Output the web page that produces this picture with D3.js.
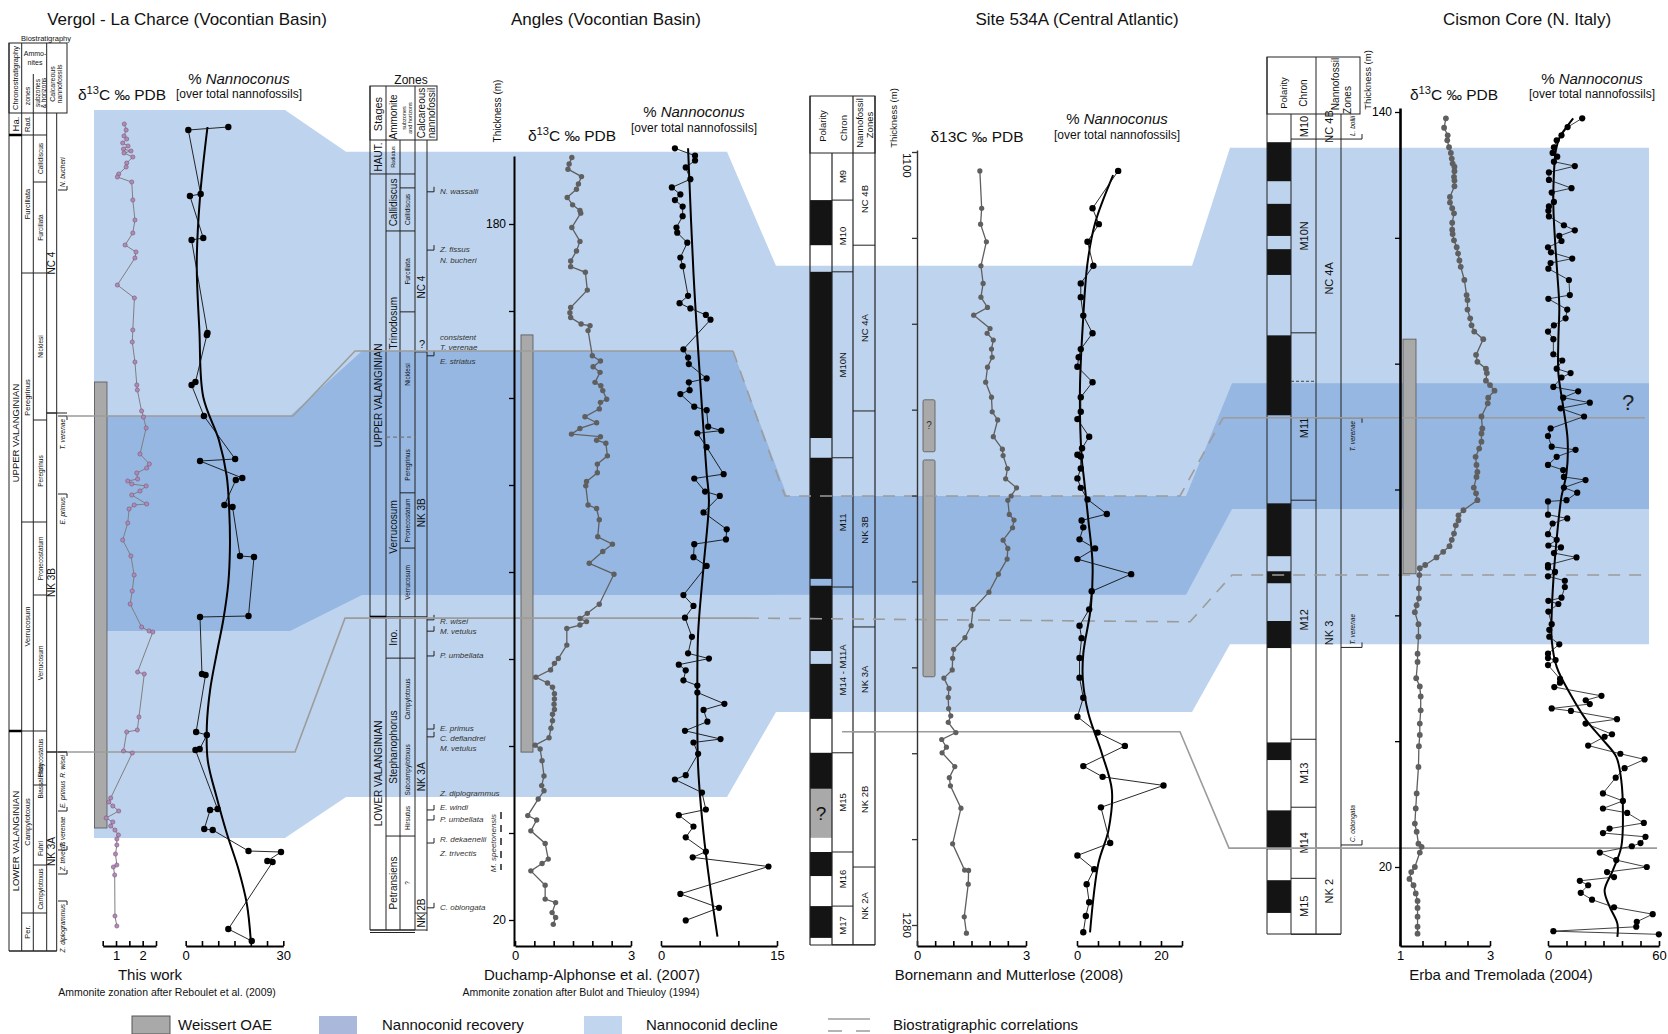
<!DOCTYPE html>
<html><head><meta charset="utf-8"><title>Nannoconid crisis</title>
<script src="https://cdnjs.cloudflare.com/ajax/libs/d3/7.8.5/d3.min.js"></script>
<style>html,body{margin:0;padding:0;background:#fff}svg{display:block}</style>
</head><body>
<script>
// ================= DATA =================
const titles = ["Vergol - La Charce (Vocontian Basin)", "Angles (Vocontian Basin)", "Site 534A (Central Atlantic)", "Cismon Core (N. Italy)"];
const sources = ["This work", "Duchamp-Alphonse et al. (2007)", "Bornemann and Mutterlose (2008)", "Erba and Tremolada (2004)"];
const legendItems = ["Weissert OAE", "Nannoconid recovery", "Nannoconid decline", "Biostratigraphic correlations"];

// Vergol (level, m above base) : [level, value]
const vergolD13C = [[82.7,1.31],[82.1,1.38],[81.5,1.30],[81.2,1.40],[80.8,1.25],[80.5,1.45],[80.2,1.28],[80.0,1.56],[79.8,1.30],[79.4,1.63],[78.8,1.40],[78.4,1.38],[77.7,1.10],[77.4,1.05],[76.9,1.59],[75.1,1.63],[73.1,1.71],[71.8,1.63],[70.6,1.34],[69.9,1.75],[69.3,1.71],[66.6,1.05],[65.3,1.69],[62.1,1.63],[60.9,1.61],[58.9,1.71],[56.6,1.78],[56.1,1.80],[54.0,1.96],[53.4,2.03],[52.3,2.13],[49.7,1.90],[48.7,2.25],[48.3,2.15],[47.8,1.78],[47.2,1.81],[47.0,1.44],[46.7,1.59],[46.5,2.13],[46.0,1.90],[45.6,1.59],[44.7,2.15],[44.6,1.68],[44.2,1.49],[42.8,1.44],[41.1,1.25],[39.5,1.56],[37.6,1.68],[36.0,1.61],[34.7,1.53],[32.4,1.96],[32.0,2.24],[31.9,2.38],[27.9,1.81],[27.7,2.06],[23.4,1.86],[22.1,1.80],[21.9,1.40],[20.0,1.28],[19.8,1.61],[15.3,0.80],[14.9,0.73],[14.5,0.88],[14.0,1.10],[13.3,0.63],[12.9,0.88],[12.5,0.80],[12.1,0.96],[11.6,1.09],[11.2,1.03],[10.6,1.03],[9.7,0.98],[8.6,1.03],[8.4,0.90],[7.6,0.95],[3.5,0.96],[2.5,1.03]];
const vergolNanno = [[82.4,13.1],[82.1,0.8],[75.7,4.6],[75.5,1.3],[71.3,5.4],[71.1,1.8],[61.8,6.7],[61.6,6.5],[56.9,3.0],[56.6,1.8],[53.5,5.6],[49.2,15.2],[49.0,4.4],[47.3,17.4],[47.1,15.4],[44.6,11.9],[44.4,14.4],[39.5,16.7],[39.4,21.0],[33.5,19.3],[33.4,4.4],[27.7,5.0],[27.6,6.1],[21.9,3.2],[21.6,6.5],[20.2,4.3],[20.1,3.0],[14.2,9.8],[14.1,7.5],[12.2,5.7],[12.1,8.3],[10.0,19.3],[9.9,29.3],[9.0,25.1],[8.9,26.7],[2.2,13.1],[1.0,20.3]];
const vergolTrend = [[82.4,6.7],[75.4,4.4],[68.8,3.4],[62.1,4.2],[55.4,5.4],[51.1,10.2],[47.5,12.6],[43.9,13.4],[40.4,13.6],[36.8,13.1],[33.2,11.6],[29.7,9.5],[26.1,7.5],[22.5,6.5],[19.0,6.8],[15.4,9.5],[11.8,12.6],[8.2,16.2],[4.7,18.8],[1.1,20.0]];

// Angles (thickness m) : [thickness, value]
const anglesD13C = [[195.3,1.47],[193.8,1.40],[192.6,1.37],[190.9,1.72],[189.2,1.64],[188.0,1.59],[186.1,1.35],[184.4,1.49],[183.1,1.68],[182.5,1.70],[179.2,1.47],[176.0,1.68],[173.8,1.59],[171.5,1.44],[170.2,1.44],[168.9,1.82],[164.8,1.87],[160.8,1.44],[159.6,1.42],[158.5,1.44],[157.0,1.71],[156.6,1.94],[155.5,1.89],[149.7,2.00],[148.5,2.21],[147.2,2.02],[145.9,2.20],[143.6,2.07],[142.8,2.22],[141.7,2.27],[139.7,2.37],[139.0,2.21],[137.5,2.18],[135.7,1.81],[134.3,2.11],[133.0,1.68],[131.7,1.46],[131.1,2.21],[130.3,2.11],[129.6,2.35],[126.7,2.39],[124.8,2.13],[122.8,2.13],[120.8,1.85],[119.8,1.83],[115.4,1.89],[114.6,2.11],[112.0,2.18],[108.1,2.14],[106.4,2.52],[104.7,2.27],[102.0,1.92],[99.5,2.56],[92.6,2.18],[90.5,1.87],[89.3,1.68],[88.6,1.85],[87.8,1.68],[87.0,1.34],[83.2,1.34],[80.1,1.12],[79.0,1.02],[77.5,0.92],[75.8,0.54],[74.5,0.84],[73.5,0.97],[72.0,1.02],[70.8,1.02],[69.6,1.01],[68.4,1.02],[67.3,0.97],[65.8,0.97],[64.1,0.93],[61.9,0.88],[60.2,0.52],[59.3,0.65],[56.6,0.70],[53.1,0.75],[50.9,0.69],[49.7,0.75],[47.8,0.60],[44.0,0.33],[43.0,0.56],[40.5,0.41],[37.6,0.78],[34.0,0.86],[33.0,0.70],[31.3,0.41],[28.0,0.78],[24.8,0.78],[24.0,1.05],[21.7,0.96],[20.6,1.05],[19.0,0.99]];
const anglesNanno = [[197.4,1.8],[195.7,4.4],[194.6,4.4],[193.0,3.2],[190.3,3.8],[188.4,1.4],[186.8,2.5],[185.5,1.8],[184.0,2.8],[181.8,2.8],[179.2,2.0],[178.0,2.1],[175.7,3.4],[172.3,2.5],[170.3,2.8],[163.5,3.5],[161.8,2.4],[160.6,3.8],[159.1,5.8],[158.0,6.4],[151.2,2.9],[149.3,3.5],[147.8,3.6],[144.5,5.9],[143.6,3.6],[141.8,3.7],[140.9,2.5],[138.0,4.3],[137.2,5.9],[133.4,6.1],[132.5,7.8],[131.9,4.7],[128.7,5.9],[122.5,8.1],[121.5,4.3],[118.5,5.7],[117.5,7.6],[113.7,5.5],[109.8,8.5],[107.5,8.4],[106.4,4.3],[103.4,4.2],[101.4,5.9],[94.7,2.9],[92.2,4.2],[89.5,3.1],[85.1,4.0],[81.3,3.5],[80.1,6.2],[78.7,2.3],[77.4,3.2],[75.1,2.9],[73.9,4.7],[72.3,4.7],[69.7,8.2],[68.3,5.5],[65.6,6.0],[63.5,3.1],[61.6,7.7],[60.8,4.2],[58.2,4.8],[53.3,3.2],[52.3,1.8],[49.3,5.3],[45.4,5.8],[44.1,2.3],[41.5,4.2],[39.0,3.2],[35.7,5.8],[34.4,4.1],[32.3,13.9],[26.0,2.5],[22.8,7.5],[19.9,3.2]];
const anglesTrend = [[197.4,3.5],[168.7,4.2],[145.7,5.0],[122.7,5.9],[116.5,6.2],[101.2,5.5],[85.9,4.8],[70.6,4.7],[55.2,4.8],[39.9,5.5],[28.4,6.3],[16.2,7.3]];

// Site 534A (depth m)
const siteD13C = [[1104.4,1.73],[1113.1,1.78],[1116.8,1.75],[1120.9,1.91],[1126.5,1.76],[1130.6,1.82],[1133.8,1.76],[1136.2,1.94],[1138.0,1.56],[1141.1,2.01],[1142.2,1.93],[1143.8,2.10],[1145.9,2.05],[1147.8,2.07],[1150.1,1.94],[1153.6,1.89],[1157.1,2.05],[1160.5,2.07],[1162.4,2.22],[1166.3,2.10],[1169.2,2.35],[1170.7,2.37],[1173.7,2.49],[1176.1,2.44],[1178.2,2.74],[1180.1,2.59],[1181.1,2.50],[1184.4,2.54],[1185.7,2.67],[1187.5,2.63],[1190.4,2.37],[1192.3,2.50],[1194.8,2.48],[1198.3,2.24],[1202.5,1.98],[1206.5,1.54],[1210.3,1.49],[1213.1,1.32],[1215.8,1.01],[1217.9,0.98],[1220.6,0.97],[1222.5,0.74],[1224.9,0.88],[1227.0,0.86],[1229.6,0.87],[1231.3,0.93],[1232.8,0.86],[1235.2,1.07],[1236.8,0.68],[1238.6,0.81],[1239.9,0.69],[1243.1,1.04],[1245.7,0.89],[1247.6,0.92],[1252.8,1.21],[1261.1,0.98],[1267.2,1.31],[1267.3,1.42],[1270.5,1.41],[1278.1,1.30],[1281.9,1.36]];
const siteNanno = [[1104.4,9.8],[1113.1,3.7],[1116.8,5.2],[1120.9,2.5],[1126.5,3.9],[1130.6,0.9],[1133.8,0.9],[1138.1,1.5],[1142.2,3.7],[1145.9,0.9],[1147.8,0.4],[1150.0,0.1],[1153.6,3.7],[1157.1,0.9],[1160.5,0.9],[1162.2,0.1],[1166.3,2.9],[1169.0,1.2],[1170.5,0.1],[1170.9,0.9],[1173.7,0.9],[1176.0,0.1],[1178.2,0.9],[1180.9,2.5],[1184.3,7.1],[1185.8,1.1],[1187.4,1.5],[1190.2,0.6],[1192.3,4.3],[1194.8,0.1],[1198.3,12.9],[1202.3,3.5],[1206.5,2.9],[1210.3,0.6],[1213.2,1.1],[1217.8,0.6],[1222.4,0.6],[1227.1,1.5],[1231.5,0.1],[1235.2,4.9],[1238.3,11.4],[1243.0,1.5],[1245.5,6.1],[1247.5,20.6],[1252.6,5.7],[1260.9,7.9],[1263.8,0.1],[1267.0,4.1],[1270.5,2.3],[1274.7,2.9],[1277.9,2.1],[1281.7,1.5]];
const siteTrend = [[1105.4,8.6],[1116.6,4.3],[1125.9,2.5],[1139.9,1.4],[1155.4,0.7],[1170.9,1.1],[1176.4,1.7],[1185.7,2.7],[1195.8,3.7],[1205.9,3.3],[1216.8,1.5],[1223.0,1.4],[1230.7,2.7],[1240.0,5.9],[1248.6,8.3],[1257.9,7.5],[1265.6,5.1],[1281.7,3.1]];

// Cismon (thickness m)
const cismonD13C = [[139.0,2.02],[137.5,1.98],[136.3,2.06],[135.5,2.05],[134.4,2.09],[133.5,2.13],[132.6,2.15],[131.8,2.17],[131.3,2.21],[130.6,2.21],[129.7,2.20],[129.1,2.21],[128.2,2.21],[126.5,2.11],[125.6,2.11],[124.7,2.16],[123.9,2.20],[122.4,2.16],[121.3,2.16],[120.6,2.17],[119.6,2.20],[118.5,2.26],[117.5,2.29],[116.4,2.32],[115.4,2.35],[113.3,2.43],[110.9,2.48],[110.1,2.50],[108.6,2.50],[107.2,2.56],[106.1,2.59],[105.1,2.65],[103.9,2.85],[101.4,2.69],[100.3,2.72],[99.2,2.91],[98.5,2.93],[97.3,2.91],[96.6,3.00],[95.7,3.10],[94.6,2.96],[93.7,2.95],[91.6,2.81],[89.7,2.83],[88.9,2.81],[87.6,2.81],[86.5,2.76],[85.2,2.68],[83.9,2.70],[82.8,2.72],[82.0,2.70],[80.3,2.64],[79.4,2.69],[78.3,2.72],[76.7,2.41],[75.9,2.30],[75.1,2.30],[74.3,2.24],[73.0,2.20],[72.0,2.15],[71.0,2.10],[70.1,1.96],[69.2,1.81],[68.0,1.56],[67.5,1.44],[66.4,1.43],[64.3,1.42],[62.7,1.42],[61.6,1.37],[60.5,1.33],[58.6,1.41],[56.6,1.41],[53.9,1.39],[52.6,1.39],[50.0,1.36],[48.7,1.44],[47.1,1.46],[44.9,1.46],[42.8,1.44],[41.0,1.44],[39.2,1.42],[35.9,1.41],[31.7,1.37],[29.3,1.35],[26.9,1.33],[25.6,1.37],[23.7,1.41],[23.2,1.48],[22.3,1.44],[20.0,1.33],[19.2,1.25],[18.1,1.21],[17.1,1.30],[15.8,1.35],[14.6,1.39],[13.5,1.39],[12.1,1.39],[10.5,1.39],[9.4,1.39]];
const cismonNanno = [[139.0,18.5],[137.6,10.6],[136.3,7.3],[135.5,4.7],[134.4,3.2],[133.5,2.5],[132.9,5.0],[132.1,3.2],[131.4,14.5],[130.4,0.5],[129.2,0.5],[127.9,12.7],[127.2,2.0],[125.7,3.2],[125.0,0.5],[124.3,0.2],[123.4,0.5],[122.0,8.6],[121.2,14.5],[120.3,6.1],[119.5,7.3],[118.5,0],[117.7,1.6],[116.7,13.1],[116.0,1.4],[115.1,0.2],[113.3,11.3],[110.9,11.8],[110.3,0.2],[108.6,10.4],[107.2,9.5],[106.1,3.2],[105.1,0],[103.9,2.9],[101.5,2.9],[100.5,7.7],[99.2,4.7],[98.5,12.2],[97.8,7.3],[96.3,2.9],[95.6,16.3],[94.6,8.2],[93.8,22.6],[92.9,6.8],[91.6,19.5],[89.7,1.4],[88.5,0],[86.8,2.0],[86.3,14.9],[85.2,4.7],[83.9,0],[83.1,8.2],[82.0,8.6],[81.5,20.3],[80.3,8.6],[79.5,15.8],[78.3,10.0],[78.1,0],[76.0,0],[75.4,10.4],[74.6,2.5],[72.9,0],[72.0,4.7],[71.1,0.2],[70.8,7.0],[69.9,3.2],[69.2,15.4],[68.0,0],[67.6,0],[66.9,3.8],[66.2,0],[65.5,9.1],[64.5,9.1],[62.8,7.3],[62.3,0.2],[61.8,5.6],[60.6,0.2],[58.6,2.0],[57.7,0.7],[56.6,0.7],[55.4,6.1],[53.9,0],[53.2,0],[52.9,4.1],[52.1,0],[49.9,6.5],[49.3,6.5],[48.6,3.4],[47.2,28.9],[46.5,20.4],[45.9,22.6],[45.2,2.0],[44.8,12.4],[43.5,37.3],[42.8,20.3],[41.1,34.6],[40.7,30.6],[39.3,21.7],[38.0,39.1],[37.1,52.2],[35.7,41.4],[34.2,36.6],[31.7,29.7],[30.5,40.5],[29.3,29.7],[28.6,42.8],[27.0,51.8],[26.1,33.3],[25.4,29.7],[24.8,52.7],[23.8,50.0],[23.3,45.3],[22.3,28.0],[21.1,36.9],[20.0,53.4],[19.2,31.9],[18.4,35.7],[17.8,17.2],[17.1,21.7],[15.9,17.7],[14.8,23.8],[13.6,35.7],[12.5,56.6],[11.3,48.0],[10.5,47.7],[9.8,2.9],[9.3,59.9]];
const cismonTrend = [[139.0,13.6],[137.6,10.0],[136.1,6.5],[134.0,4.3],[130.2,3.2],[125.0,2.9],[119.6,3.8],[114.4,5.0],[109.1,6.1],[103.8,5.6],[98.5,5.6],[93.2,8.2],[87.9,10.6],[82.6,10.0],[78.9,7.3],[76.2,6.1],[70.9,4.3],[65.6,2.9],[60.3,2.0],[56.1,2.0],[51.8,4.7],[47.6,11.8],[43.3,20.8],[40.2,29.7],[37.5,36.9],[33.8,39.6],[28.5,40.5],[23.2,39.6],[19.5,35.1],[16.3,30.6],[13.7,33.3],[11.0,37.5],[8.9,37.5]];

// Bands [top, bottom] in each section's depth units (Vergol, Angles, Site 534A, Cismon)
const declineBand = [[84.1,11.3],[196.6,48.3],[1126.5,1230.4],[134.3,55.4]];
const recoveryBand = [[53.5,32.0],[150.8,94.7],[1180.1,1203.1],[96.9,76.9]];
// Correlation levels
const corrUpper = [53.5, 150.8, 1180.1, 91.4];
const corrLower = [19.9, 89.4, 1209.4, 66.4];
const corrMagneto = [1235.0, 23.0];
// Weissert OAE intervals
const oaeVergol = [[56.9,12.3]];
const oaeAngles = [[154.5,58.6]];
const oaeSite = [[1157.7,1169.8],[1171.7,1222.2]];
const oaeCismon = [[103.9,66.6]];

// Stratigraphic columns: [top, bottom, label, boundaryStyle, labelLevel]
const vChrono = [[83.8,81.6,"Ha."],[81.6,22.0,"UPPER VALANGINIAN"],[22.0,0,"LOWER VALANGINIAN"]];
const vZones = [[83.8,81.6,"Rad."],[81.6,67.8,"Furcillata"],[67.8,42.9,"Peregrinus"],[42.9,22.0,"Verrucosum"],[22.0,3.8,"Campylotoxus"],[3.8,0,"Per."]];
const vSub = [[83.8,81.6,""],[81.6,76.9,"Callidiscus"],[76.9,67.8,"Furcillata"],[67.8,53.1,"Nicklesi"],[53.1,42.9,"Peregrinus"],[42.9,35.6,"Pronecostatum"],[35.6,22.0,"Verrucosum"],[22.0,16.6,"Platycostatus"],[16.6,11.9,"Biassalense",1,17.0],[11.9,8.6,"Fuhri"],[8.6,3.8,"Campylotoxus"],[3.8,0,""]];
const vNanno = [[83.8,53.8,"NC 4"],[53.8,19.9,"NK 3B"],[19.9,0,"NK 3A"]];
const vMarkers = [["N. bucheri",76.1,1],["T. verenae",53.5,0],["E. primus",45.7,0],["R. wisei",19.9,0],["E. primus",14.0,1],["T. verenae",10.1,1],["Z. trivectis",7.7,1],["Z. diplogrammus",5.0,0]];

const aStages = [[199.3,191.5,"HAUT."],[191.5,89.7,"UPPER VALANGINIAN"],[89.7,17.7,"LOWER VALANGINIAN"]];
const aZones = [[199.3,191.5,"Radiatus"],[191.5,178.4,"Callidiscus"],[178.4,131.0,"Trinodosum",2,157.2],[131.0,89.7,"Verrucosum"],[89.7,80.2,"Ino."],[80.2,39.3,"Stephanophorus"],[39.3,17.7,"Petransiens"]];
const aSub = [[199.3,191.5,""],[191.5,188.3,""],[188.3,178.4,"Callidiscus"],[178.4,159.8,"Furcillata"],[159.8,131.0,"Nicklesi",2],[131.0,118.2,"Peregrinus"],[118.2,105.5,"Pronecostatum"],[105.5,89.7,"Verrucosum"],[89.7,80.2,""],[80.2,61.4,"Campylotoxus",1],[61.4,47.6,"Subcampylotoxus",1],[47.6,39.3,"Hirsutus"],[39.3,17.7,"?"]];
const aNanno = [[199.3,150.6,"NC 4",0,165.5],[150.6,89.7,"NK 3B",0,113.6],[89.7,21.6,"NK 3A",0,52.9],[21.6,17.7,"NK 2B",0,21.6]];
// [name, bracket level, has bracket, text level]
const aMarkers = [["N. wassalli",187.4,1,187.4],["Z. fissus",174.0,1,174.2],["N. bucheri",172.6,0,171.5],["consistent",153.8,0,154.0],["T. verenae",151.5,0,151.6],["E. striatus",149.7,1,148.3],["R. wisei",89.0,1,88.6],["M. vetulus",86.4,1,86.3],["P. umbellata",80.7,1,80.8],["E. primus",63.9,1,64.1],["C. deflandrei",62.1,1,61.8],["M. vetulus",60.0,0,59.5],["Z. diplogrammus",49.0,0,49.0],["E. windi",45.3,1,45.8],["P. umbellata",43.0,1,43.1],["R. dekaenelii",37.7,1,38.5],["Z. trivectis",35.2,0,35.3],["C. oblongata",22.8,1,22.9]];

const sPolarity = [[1100.2,1111.2,"w"],[1111.2,1121.7,"b"],[1121.7,1127.9,"w"],[1127.9,1166.6,"b"],[1166.6,1171.2,"w"],[1171.2,1199.4,"b"],[1199.4,1201.0,"w"],[1201.0,1216.2,"b"],[1216.2,1219.2,"w"],[1219.2,1232.0,"b"],[1232.0,1239.9,"w"],[1239.9,1248.3,"b"],[1248.3,1259.7,"?"],[1259.7,1263.0,"w"],[1263.0,1268.6,"b"],[1268.6,1275.6,"w"],[1275.6,1283.0,"b"],[1283.0,1284.6,"w"]];
const sChron = [[1100.2,1111.2,"M9"],[1111.2,1127.9,"M10"],[1127.9,1171.2,"M10N"],[1171.2,1201.3,"M11"],[1201.3,1239.9,"M14 - M11A"],[1239.9,1263.0,"M15"],[1263.0,1275.6,"M16"],[1275.6,1284.6,"M17"]];
const sNanno = [[1100.2,1121.7,"NC 4B"],[1121.7,1160.3,"NC 4A"],[1160.3,1210.6,"NK 3B",0,1188.0],[1210.6,1235.0,"NK 3A"],[1235.0,1266.5,"NK 2B"],[1266.5,1284.6,"NK 2A"]];

const cPolarity = [[139.7,135.2,"w"],[135.2,129.0,"b"],[129.0,125.4,"w"],[125.4,120.3,"b"],[120.3,118.2,"w"],[118.2,114.1,"b"],[114.1,104.5,"w"],[104.5,91.8,"b"],[91.8,77.8,"w"],[77.8,69.4,"b"],[69.4,67.0,"w"],[67.0,65.1,"b"],[65.1,59.1,"w"],[59.1,54.8,"b"],[54.8,39.8,"w"],[39.8,37.0,"b"],[37.0,29.0,"w"],[29.0,22.8,"b"],[22.8,17.9,"w"],[17.9,12.7,"b"],[12.7,9.3,"w"]];
const cChron = [[139.7,135.7,"M10"],[135.7,104.9,"M10N"],[104.9,78.3,"M11",0,89.8],[78.3,40.3,"M12"],[40.3,29.5,"M13"],[29.5,18.2,"M14"],[18.2,9.3,"M15"]];
const cNanno = [[139.7,135.7,"NC 4B"],[135.7,91.4,"NC 4A"],[91.4,23.0,"NK 3"],[23.0,9.3,"NK 2"]];
const cMarkers = [["L. bollii",135.7,1],["T. verenae",91.4,0],["T. verenae",54.9,1],["C. oblongata",23.5,1]];

// Axis ticks
const tV_d = [0.5,1,1.5,2,2.5], lV_d = [1,2];
const tV_n = [0,5,10,15,20,25,30], lV_n = [0,30];
const tA_d = [0,0.5,1,1.5,2,2.5,3], lA_d = [0,3];
const tA_n = [0,5,10,15], lA_n = [0,15];
const tA_y = [180,160,140,120,100,80,60,40,20], lA_y = [180,20];
const tS_d = [0,0.5,1,1.5,2,2.5,3], lS_d = [0,3];
const tS_n = [0,5,10,15,20,25], lS_n = [0,20];
const tS_y = [1100,1120,1140,1160,1180,1200,1220,1240,1260,1280], lS_y = [1100,1280];
const tC_d = [1,1.5,2,2.5,3], lC_d = [1,3];
const tC_n = [0,10,20,30,40,50,60], lC_n = [0,60];
const tC_y = [140,120,100,80,60,40,20], lC_y = [140,20];

// ================= DRAWING =================
const FONT = "'Liberation Sans', Arial, Helvetica, sans-serif";
const C_LIGHT = "#bed3ed", C_DARK = "#95b7e1", C_OAE = "#a9a9a9", C_CORR = "#9c9c9c";
const svg = d3.select("body").append("svg").attr("width",1668).attr("height",1034)
  .style("font-family",FONT);

const yV = d3.scaleLinear().domain([0,83.8]).range([951,113]);
const yA = d3.scaleLinear().domain([180,20]).range([224,920]);
const yS = d3.scaleLinear().domain([1100,1280]).range([152,925]);
const yC = d3.scaleLinear().domain([140,20]).range([112,867]);
const yScales = [yV,yA,yS,yC];

const xV_d = d3.scaleLinear().domain([0.5,2.5]).range([102.7,156]);
const xV_n = d3.scaleLinear().domain([0,30]).range([185.7,283.3]);
const xA_d = d3.scaleLinear().domain([0,3]).range([515,631]);
const xA_n = d3.scaleLinear().domain([0,15]).range([661,777]);
const xS_d = d3.scaleLinear().domain([0,3]).range([917,1026]);
const xS_n = d3.scaleLinear().domain([0,25]).range([1077,1182]);
const xC_d = d3.scaleLinear().domain([1,3]).range([1400,1490]);
const xC_n = d3.scaleLinear().domain([0,60]).range([1548,1659]);

const gBand = svg.append("g"), gCol = svg.append("g"), gBar = svg.append("g"),
      gCorr = svg.append("g"), gCurve = svg.append("g"), gAx = svg.append("g"), gTxt = svg.append("g");

// --- bands
function bandPts(levels, xs){
  const top=[], bot=[];
  levels.forEach((lv,i)=>{
    const y=yScales[i];
    top.push([xs[i][0],y(lv[0])],[xs[i][1],y(lv[0])]);
    bot.push([xs[i][0],y(lv[1])],[xs[i][1],y(lv[1])]);
  });
  return top.concat(bot.reverse());
}
const lineGen = d3.line();
gBand.append("path").attr("d", lineGen(bandPts(declineBand, [[94,285],[346,727],[776,1192],[1230,1649]]))+"Z").attr("fill",C_LIGHT);
gBand.append("path").attr("d", lineGen(bandPts(recoveryBand, [[94,290],[362,733],[787,1186],[1232,1649]]))+"Z").attr("fill",C_DARK);

// --- helpers
function ln(g,x1,y1,x2,y2,sw=1,col="#222",dash=null){
  const l=g.append("line").attr("x1",x1).attr("y1",y1).attr("x2",x2).attr("y2",y2).attr("stroke",col).attr("stroke-width",sw);
  if(dash) l.attr("stroke-dasharray",dash);
  return l;
}
function rtxt(g,cx,cy,s,fs,o={}){
  const t=g.append("text").attr("transform",`translate(${cx},${cy}) rotate(${o.rot||-90})`)
    .attr("text-anchor",o.anchor||"middle").attr("dominant-baseline","central")
    .attr("font-size",fs).attr("fill",o.fill||"#111").text(s);
  if(o.italic) t.attr("font-style","italic");
  return t;
}
function txt(g,x,y,s,fs,o={}){
  const t=g.append("text").attr("x",x).attr("y",y).attr("text-anchor",o.anchor||"middle")
    .attr("font-size",fs).attr("fill",o.fill||"#111").text(s);
  if(o.italic) t.attr("font-style","italic");
  if(o.db) t.attr("dominant-baseline",o.db);
  return t;
}
function zoneCol(cells,y,x0,x1,fs){
  cells.forEach(c=>{
    const [a,b,lab,flag,lv]=c; const ya=y(a), yb=y(b);
    if(flag===2) ln(gCol,x0,yb,x1,yb,1.2,"#777","4,3");
    else if(flag!==1) ln(gCol,x0,yb,x1,yb,1);
    const cy = (lv!==undefined) ? y(lv) : (ya+yb)/2;
    if(lab) rtxt(gCol,(x0+x1)/2,cy,lab,fs);
  });
}
function polarity(cells,y,x0,x1){
  cells.forEach(([a,b,k])=>{
    if(k==="w") return;
    gCol.append("rect").attr("x",x0).attr("y",y(a)).attr("width",x1-x0).attr("height",y(b)-y(a))
      .attr("fill",k==="b"?"#141414":"#a9a9a9");
    if(k==="?") txt(gCol,(x0+x1)/2,(y(a)+y(b))/2,"?",19,{db:"central"});
  });
}

// ===== Panel 1 column (Vergol)
txt(gCol,46,41,"Biostratigraphy",7.5);
gCol.append("rect").attr("x",9).attr("y",43).attr("width",58).attr("height",70).attr("fill","none").attr("stroke","#222");
[9,21.7,46.7].forEach(x=>ln(gCol,x,43,x,951));
ln(gCol,33.3,74,33.3,951); ln(gCol,56.7,113,56.7,951); ln(gCol,9,951,56.7,951);
rtxt(gCol,15.3,78,"Chronostratigraphy",7.5);
txt(gCol,35,56,"Ammo-",7); txt(gCol,35,65,"nites",7);
rtxt(gCol,27.5,96,"zones",7); rtxt(gCol,37.5,93,"subzones",6.5); rtxt(gCol,43.5,93,"& horizons",6.5);
rtxt(gCol,52,84,"Calcareous",7); rtxt(gCol,59.5,84,"nannofossils",7);
zoneCol(vChrono,yV,9,21.7,9.5); zoneCol(vZones,yV,21.7,33.3,7.5); zoneCol(vSub,yV,33.3,46.7,6.5); zoneCol(vNanno,yV,46.7,56.7,10);
ln(gCol,9,yV(81.6),21.7,yV(81.6),2.5,"#000"); ln(gCol,9,yV(22.0),21.7,yV(22.0),2.5,"#000");
ln(gCol,46.7,yV(53.8),67,yV(53.8),1); ln(gCol,46.7,yV(19.9),67,yV(19.9),1);
vMarkers.forEach(([n,lv,up])=>{
  const y=yV(lv);
  gCol.append("path").attr("d",`M58,${y}H67V${up?y-4:y+4}`).attr("fill","none").attr("stroke","#222");
  rtxt(gCol,62,up?y-3:y+3,n,6.5,{anchor:up?"start":"end",italic:true,rot:-90});
});

// ===== Panel 2 column (Angles)
txt(gCol,411,84,"Zones",12);
gCol.append("rect").attr("x",370).attr("y",86).attr("width",67).attr("height",54).attr("fill","none").attr("stroke","#222");
[370,386,415].forEach(x=>ln(gCol,x,86,x,930)); ln(gCol,400,140,400,930); ln(gCol,427,140,427,931);
ln(gCol,370,930,415,930); ln(gCol,370,932.5,415,932.5);
rtxt(gCol,378,114,"Stages",11); rtxt(gCol,393,117,"Ammonite",10); rtxt(gCol,404,118,"subzones",5.5); rtxt(gCol,409.5,118,"and horizons",5.5);
rtxt(gCol,421,113,"Calcareous",10); rtxt(gCol,431.5,113,"nannofossil",10);
zoneCol(aStages,yA,370,386,10); zoneCol(aZones,yA,386,400,10); zoneCol(aSub,yA,400,415,6.5); zoneCol(aNanno,yA,415,427,10);
ln(gCol,370,yA(89.7),386,yA(89.7),2.2,"#000");
txt(gCol,422,yA(152.3)+4,"?",11);
gCol.selectAll("text").filter(function(){return d3.select(this).text()==="Radiatus";}).attr("font-size",5.5);
aMarkers.forEach(([n,t,br,tl])=>{
  const y=yA(t);
  if(br) gCol.append("path").attr("d",`M427,${y}H434V${y-5}`).attr("fill","none").attr("stroke","#222");
  txt(gCol,440,yA(tl),n,8,{anchor:"start",italic:true,db:"central",fill:"#333"});
});
rtxt(gCol,493,yA(37.7),"M. speetonensis",8,{italic:true,fill:"#333"});
ln(gCol,501,yA(44.8),501,yA(31.5),2,"#555","7,6");

// ===== Panel 3 column (Site 534A)
gCol.append("rect").attr("x",810).attr("y",96).attr("width",65).attr("height",57).attr("fill","none").attr("stroke","#222");
polarity(sPolarity,yS,810,832);
[810,853,875].forEach(x=>ln(gCol,x,96,x,945,1.2)); ln(gCol,832,153,832,945,1.2);
ln(gCol,810,945,875,945,1.2);
rtxt(gCol,822,126,"Polarity",9.5); rtxt(gCol,843,128,"Chron",9.5); rtxt(gCol,859,123,"Nannofossil",9.5); rtxt(gCol,869,125,"Zones",9.5);
zoneCol(sChron,yS,832,853,9.5); zoneCol(sNanno,yS,853,875,9.5);
rtxt(gCol,893,118,"Thickness (m)",9.5);

// ===== Panel 4 column (Cismon)
gCol.append("rect").attr("x",1267).attr("y",57).attr("width",93).attr("height",57).attr("fill","none").attr("stroke","#222");
polarity(cPolarity,yC,1267,1291);
[1267,1316].forEach(x=>ln(gCol,x,57,x,934,1)); ln(gCol,1291,114,1291,934,1); ln(gCol,1341,114,1341,934,1);
ln(gCol,1267,934,1341,934,1);
rtxt(gCol,1283,93,"Polarity",9.5); rtxt(gCol,1303,93,"Chron",10); rtxt(gCol,1335,84,"Nannofossil",10); rtxt(gCol,1347,100,"Zones",10);
rtxt(gCol,1367,80,"Thickness (m)",9.5);
zoneCol(cChron,yC,1291,1316,11); zoneCol(cNanno,yC,1316,1341,11);
ln(gCol,1291,yC(97.2),1316,yC(97.2),1,"#444","3,2");
cMarkers.forEach(([n,t,up])=>{
  const y=yC(t);
  gCol.append("path").attr("d",`M1341,${y}H1362V${up?y-5:y+5}`).attr("fill","none").attr("stroke","#222");
  rtxt(gCol,1352,up?y-3:y+3,n,6.5,{anchor:up?"start":"end",italic:true});
});

// ===== OAE bars
function bars(data,y,x0,x1,rx){
  data.forEach(([a,b])=>gBar.append("rect").attr("x",x0).attr("y",y(a)).attr("width",x1-x0).attr("height",y(b)-y(a))
    .attr("rx",rx).attr("fill",C_OAE).attr("stroke","#555").attr("stroke-width",0.8));
}
bars(oaeVergol,yV,94.5,107,0); bars(oaeAngles,yA,521,533,0); bars(oaeSite,yS,923,935,1.5); bars(oaeCismon,yC,1403,1416,0);
txt(gBar,929,yS(1163.7),"?",10,{db:"central",fill:"#333"});
txt(gBar,1628,yC(93.9),"?",22,{db:"central",fill:"#222"});

// ===== correlation lines
function corr(pts,dashed){
  gCorr.append("path").attr("d",lineGen(pts)).attr("fill","none").attr("stroke",C_CORR)
    .attr("stroke-width",1.6).attr("stroke-dasharray",dashed?"12,9":null);
}
const U=corrUpper, L=corrLower, M=corrMagneto;
corr([[67,yV(U[0])],[293,yV(U[0])],[355,yA(U[1])],[733,yA(U[1])]],false);
corr([[733,yA(U[1])],[785,yS(U[2])],[1180,yS(U[2])],[1223,yC(U[3])]],true);
corr([[1223,yC(U[3])],[1645,yC(U[3])]],false);
corr([[67,yV(L[0])],[295,yV(L[0])],[345,yA(L[1])],[747,yA(L[1])]],false);
corr([[747,yA(L[1])],[1190,yS(L[2])],[1232,yC(L[3])],[1647,yC(L[3])]],true);
corr([[842,yS(M[0])],[1180,yS(M[0])],[1229,yC(M[1])],[1657,yC(M[1])]],false);

// ===== curves
function series(data,xs,ys,o){
  const l=d3.line().x(d=>xs(d[1])).y(d=>ys(d[0]));
  gCurve.append("path").attr("d",l(data)).attr("fill","none").attr("stroke",o.stroke).attr("stroke-width",o.sw);
  gCurve.append("g").selectAll("circle").data(data).join("circle")
    .attr("cx",d=>xs(d[1])).attr("cy",d=>ys(d[0])).attr("r",o.r).attr("fill",o.fill)
    .attr("stroke",o.pstroke||"none").attr("stroke-width",0.6);
}
function trend(data,xs,ys){
  const l=d3.line().curve(d3.curveCatmullRom.alpha(0.5)).x(d=>xs(d[1])).y(d=>ys(d[0]));
  gCurve.append("path").attr("d",l(data)).attr("fill","none").attr("stroke","#000").attr("stroke-width",2);
}
series(vergolD13C,xV_d,yV,{stroke:"#808080",sw:1,r:2.1,fill:"#b08ab2",pstroke:"#7c567e"});
trend(vergolTrend,xV_n,yV);
series(vergolNanno,xV_n,yV,{stroke:"#111",sw:0.9,r:3.2,fill:"#000"});
series(anglesD13C,xA_d,yA,{stroke:"#5f5f5f",sw:1.3,r:2.7,fill:"#5f5f5f"});
trend(anglesTrend,xA_n,yA);
series(anglesNanno,xA_n,yA,{stroke:"#111",sw:0.9,r:3.1,fill:"#000"});
series(siteD13C,xS_d,yS,{stroke:"#5f5f5f",sw:1.3,r:2.6,fill:"#5f5f5f"});
trend(siteTrend,xS_n,yS);
series(siteNanno,xS_n,yS,{stroke:"#111",sw:0.9,r:3.2,fill:"#000"});
series(cismonD13C,xC_d,yC,{stroke:"#5f5f5f",sw:1.3,r:2.9,fill:"#5f5f5f"});
trend(cismonTrend,xC_n,yC);
series(cismonNanno,xC_n,yC,{stroke:"#111",sw:0.8,r:3.1,fill:"#000"});

// ===== axes
function bAxis(scale,ticks,labs){
  const ax=d3.axisBottom(scale).tickValues(ticks).tickSizeInner(-5).tickSizeOuter(0).tickPadding(5)
    .tickFormat(d=>labs.includes(d)?d:"");
  const g=gAx.append("g").attr("transform","translate(0,946)").call(ax).attr("font-family",FONT).attr("font-size",13);
  g.select(".domain").attr("stroke-width",2.2).attr("stroke","#000");
  g.selectAll(".tick line").attr("stroke-width",1.6);
}
bAxis(xV_d,tV_d,lV_d); bAxis(xV_n,tV_n,lV_n);
bAxis(xA_d,tA_d,lA_d); bAxis(xA_n,tA_n,lA_n);
bAxis(xS_d,tS_d,lS_d); bAxis(xS_n,tS_n,lS_n);
bAxis(xC_d,tC_d,lC_d); bAxis(xC_n,tC_n,lC_n);
function lAxis(scale,y0,y1,x,ticks,labs,sw,col){
  const s=scale.copy().domain([scale.invert(y0),scale.invert(y1)]).range([y0,y1]);
  const ax=d3.axisLeft(s).tickValues(ticks).tickSizeInner(5).tickSizeOuter(0).tickPadding(3)
    .tickFormat(d=>labs.includes(d)?d:"");
  const g=gAx.append("g").attr("transform",`translate(${x},0)`).call(ax).attr("font-family",FONT).attr("font-size",12);
  g.select(".domain").attr("stroke-width",sw).attr("stroke",col);
  g.selectAll(".tick line").attr("stroke-width",1.3).attr("stroke",col);
  return s;
}
lAxis(yA,156,946,514,tA_y,lA_y,2,"#000");
const sAx=lAxis(yS,150,946,917,tS_y,[],1.4,"#333");
rtxt(gAx,907,sAx(lS_y[0])+1,String(lS_y[0]),11.5,{rot:90,anchor:"start"});
rtxt(gAx,907,sAx(lS_y[1]),String(lS_y[1]),11.5,{rot:90,anchor:"middle"});
lAxis(yC,108,946,1400,tC_y,lC_y,2.6,"#000");
rtxt(gAx,497,111,"Thickness (m)",10);

// ===== headers & titles
const titleX=[187,606,1077,1527];
titles.forEach((t,i)=>txt(gTxt,titleX[i],25,t,17));
function d13(x,y,fs,sup){
  const t=gTxt.append("text").attr("x",x).attr("y",y).attr("text-anchor","middle").attr("font-size",fs).attr("fill","#111");
  t.append("tspan").text("δ");
  if(sup){ t.append("tspan").attr("dy",-6).attr("font-size",fs*0.72).text("13"); t.append("tspan").attr("dy",6).text("C ‰ PDB"); }
  else t.append("tspan").text("13C ‰ PDB");
}
function nanHead(x,y1,y2){
  const t=gTxt.append("text").attr("x",x).attr("y",y1).attr("text-anchor","middle").attr("font-size",15).attr("fill","#111");
  t.append("tspan").text("% ");
  t.append("tspan").attr("font-style","italic").text("Nannoconus");
  txt(gTxt,x,y2,"[over total nannofossils]",12);
}
d13(122,100,15.5,true); nanHead(239,84,98);
d13(572,141,15.5,true); nanHead(694,117,132);
d13(977,142,15.5,false); nanHead(1117,124,139);
d13(1454,100,15.5,true); nanHead(1592,84,98);
txt(gTxt,150,980,sources[0],15);
txt(gTxt,167,996,"Ammonite zonation after Reboulet et al. (2009)",10.5);
txt(gTxt,592,980,sources[1],15);
txt(gTxt,581,996,"Ammonite zonation after Bulot and Thieuloy (1994)",10.5);
txt(gTxt,1009,980,sources[2],15);
txt(gTxt,1501,980,sources[3],15);

// ===== legend
const gL=svg.append("g");
gL.append("rect").attr("x",132).attr("y",1016).attr("width",38).attr("height",18).attr("fill",C_OAE).attr("stroke","#555");
txt(gL,178,1030,legendItems[0],15,{anchor:"start"});
gL.append("rect").attr("x",319).attr("y",1016).attr("width",38).attr("height",18).attr("fill","#aab8dc");
txt(gL,382,1030,legendItems[1],15,{anchor:"start"});
gL.append("rect").attr("x",584).attr("y",1016).attr("width",38).attr("height",18).attr("fill","#c2d5ef");
txt(gL,646,1030,legendItems[2],15,{anchor:"start"});
ln(gL,828,1019,870,1019,1.6,C_CORR); ln(gL,828,1031,870,1031,1.6,C_CORR,"14,14");
txt(gL,893,1030,legendItems[3],15,{anchor:"start"});
</script>
</body></html>
